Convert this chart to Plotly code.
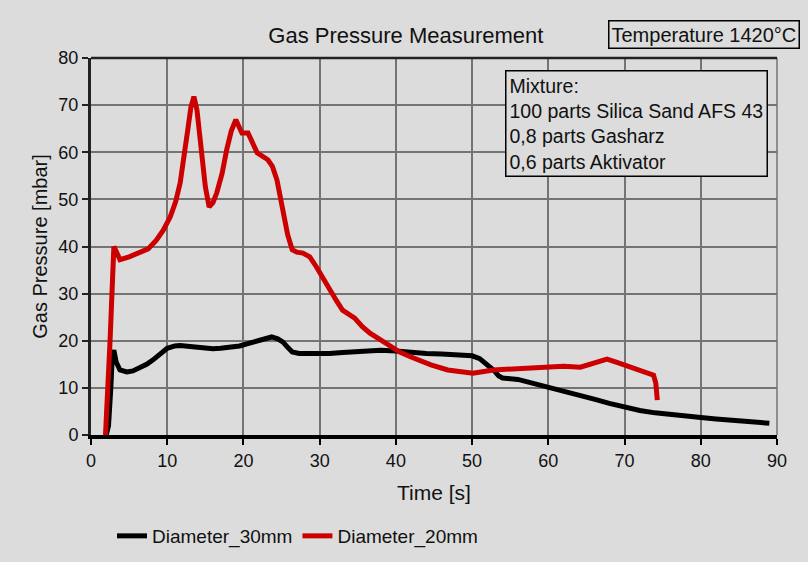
import plotly.graph_objects as go

# ---- data ----
t_30 = [2.0, 2.3, 2.6, 2.8, 3.0, 3.3, 3.8, 4.7, 5.5, 6.4, 7.3, 8.1, 9.0, 10.0, 11.0, 11.7,
        13.0, 13.9, 15.0, 16.0, 17.0, 18.2, 19.5, 20.8, 22.0, 23.0, 23.7, 24.5, 25.2, 25.8,
        26.4, 27.3, 28.3, 30.0, 31.3, 33.0, 35.0, 37.0, 38.0, 40.0, 42.0, 44.0, 46.0, 48.0,
        50.0, 51.0, 52.0, 52.8, 53.5, 54.0, 56.0, 58.0, 59.8, 62.0, 64.0, 66.0, 68.0, 70.1,
        72.0, 74.0, 76.0, 78.0, 80.0, 82.0, 84.0, 86.0, 88.0, 89.0]
p_30 = [0, 2, 10, 17, 18, 15.5, 13.8, 13.4, 13.6, 14.2, 15.0, 15.9, 17.2, 18.4, 18.9, 19.0,
        18.8, 18.6, 18.4, 18.3, 18.4, 18.6, 18.9, 19.5, 20.0, 20.6, 20.8, 20.4, 19.7, 18.6,
        17.6, 17.3, 17.3, 17.2, 17.3, 17.5, 17.8, 18.0, 18.0, 17.8, 17.5, 17.3, 17.2, 17.1,
        16.8, 16.2, 15.0, 13.8, 12.5, 12.1, 11.8, 11.0, 10.2, 9.2, 8.4, 7.6, 6.7, 5.9,
        5.2, 4.7, 4.3, 3.9, 3.7, 3.4, 3.1, 2.8, 2.6, 2.5]

t_20 = [1.9, 2.2, 2.5, 2.75, 2.9, 3.0, 3.3, 3.8, 5.0, 6.4, 7.5, 8.6, 9.5, 10.4, 11.1, 11.7,
        12.2, 12.7, 13.1, 13.5, 13.9, 14.3, 14.7, 15.0, 15.5, 16.0, 16.5, 17.2, 17.8, 18.4,
        19.0, 19.4, 19.8, 20.6, 21.2, 21.8, 23.2, 23.8, 24.4, 24.8, 25.2, 25.8, 26.4, 27.0,
        27.8, 28.7, 29.6, 30.5, 31.3, 32.2, 33.0, 34.6, 35.6, 36.6, 38.0, 39.3, 40.5, 41.9,
        43.3, 44.6, 46.8, 48.5, 50.1, 52.8, 55.0, 57.5, 59.8, 62.0, 64.2, 66.0, 67.7, 69.0,
        70.3, 72.0, 73.8, 74.1, 74.3]
p_20 = [0, 8, 20, 30, 36, 40, 39, 37.2, 37.8, 38.6, 39.5, 41.4, 43.5, 46.3, 49.5, 53.5,
        58.5, 64.8, 69.5, 71.8, 69.0, 62.6, 57.0, 52.7, 48.4, 49.3, 51.4, 55.5, 60.5, 64.5,
        66.9, 65.5, 64.1, 64.1, 62.0, 59.9, 58.4, 57.0, 54.1, 50.5, 47.1, 42.5, 39.3, 38.8,
        38.6, 37.8, 35.6, 33.0, 30.7, 28.5, 26.5, 24.8, 23.0, 21.6, 20.2, 18.7, 17.6, 16.6,
        15.7, 14.9, 13.8, 13.4, 13.1, 13.8, 14.0, 14.3, 14.6, 14.6, 14.4, 15.3, 16.1, 15.4,
        14.6, 13.7, 12.7, 11.0, 7.4]

x_ticks = [0, 10, 20, 30, 40, 50, 60, 70, 80, 90]
y_ticks = [0, 10, 20, 30, 40, 50, 60, 70, 80]

title_text = "Gas Pressure Measurement"
temp_text = "Temperature 1420°C"
mix_lines = ["Mixture:", "100 parts Silica Sand AFS 43", "0,8 parts Gasharz", "0,6 parts Aktivator"]

FONT = "Liberation Sans, Arial, sans-serif"
BG = "#dcdcdc"
GRID = "#747474"

fig = go.Figure()
fig.add_trace(go.Scatter(x=t_30, y=p_30, mode="lines", name="Diameter_30mm",
                         line=dict(color="#000000", width=5)))
fig.add_trace(go.Scatter(x=t_20, y=p_20, mode="lines", name="Diameter_20mm",
                         line=dict(color="#cc0000", width=5)))

fig.update_layout(
    width=808, height=562,
    paper_bgcolor=BG, plot_bgcolor=BG,
    margin=dict(l=91, r=31, t=58, b=127, autoexpand=False),
    font=dict(family=FONT, size=18, color="#111111"),
    title=dict(text=title_text, font=dict(size=22, color="#111111"),
               xref="paper", x=0.459, xanchor="center",
               yref="container", y=1 - 35 / 562, yanchor="middle"),
    showlegend=True,
    legend=dict(orientation="h", xref="container", x=112 / 808,
                yref="container", y=1 - 536 / 562, xanchor="left", yanchor="middle",
                bgcolor="rgba(0,0,0,0)", font=dict(size=19), itemwidth=30,
                tracegroupgap=0),
    xaxis=dict(range=[0, 90], tickvals=x_ticks, ticktext=[str(v) for v in x_ticks],
               showgrid=True, gridcolor=GRID, gridwidth=1.5,
               showline=True, linecolor="#000000", linewidth=4,
               ticks="outside", ticklen=6, tickcolor="#000000", tickwidth=1.5,
               zeroline=False, automargin=False,
               title=dict(text="Time [s]", font=dict(size=21), standoff=17),
               tickfont=dict(size=18)),
    yaxis=dict(range=[0, 80], tickvals=y_ticks, ticktext=[str(v) for v in y_ticks],
               showgrid=True, gridcolor=GRID, gridwidth=1.5,
               showline=True, linecolor="#222222", linewidth=3,
               ticks="outside", ticklen=6, tickcolor="#222222", tickwidth=1.5,
               zeroline=False, automargin=False,
               title=dict(text="Gas Pressure [mbar]", font=dict(size=20), standoff=6),
               tickfont=dict(size=18)),
)

# borders: top dark line, right gray line
fig.add_shape(type="line", xref="paper", yref="paper", x0=0, x1=1, y0=1, y1=1,
              line=dict(color="#222222", width=2.5), layer="above")
fig.add_shape(type="line", xref="paper", yref="paper", x0=1, x1=1, y0=0, y1=1,
              line=dict(color=GRID, width=1.5), layer="below")

fig.add_annotation(text=temp_text, xref="paper", yref="paper",
                   x=(703.5 - 91) / 686, y=(435 - 35) / 377,
                   xanchor="center", yanchor="middle", showarrow=False,
                   font=dict(size=20, color="#111111"),
                   bordercolor="#000000", borderwidth=1.5, borderpad=2, bgcolor=BG)

fig.add_annotation(text="<br>".join(mix_lines), xref="paper", yref="paper",
                   x=(505 - 91) / 686, y=(435 - 70) / 377,
                   xanchor="left", yanchor="top", align="left", showarrow=False,
                   font=dict(size=19.5, color="#111111"),
                   bordercolor="#000000", borderwidth=1.5, borderpad=3, bgcolor=BG)

fig.write_html("out.html", config={"displayModeBar": False},
               post_script="document.body.style.margin='0';")
